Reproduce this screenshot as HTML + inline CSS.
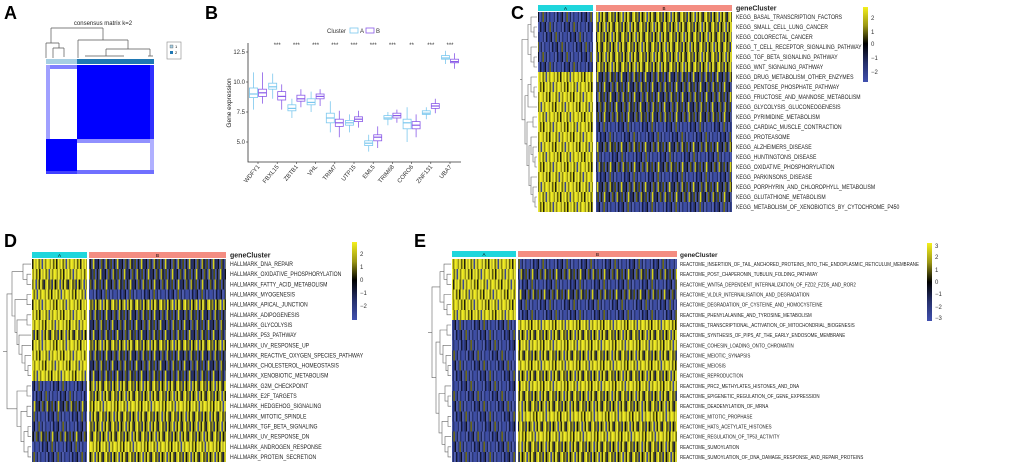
<!DOCTYPE html>
<html><head><meta charset="utf-8"><style>
html,body{margin:0;padding:0;background:#fff;}
svg{display:block;font-family:"Liberation Sans",sans-serif;}
</style></head><body>
<svg id="fig" width="1020" height="467" viewBox="0 0 1020 467" xmlns="http://www.w3.org/2000/svg">
<defs>
<pattern id="hi0" width="24" height="10" patternUnits="userSpaceOnUse"><rect x="0" width="1.7" height="10" fill="#e6e21c"/><rect x="1.6" width="1.7" height="10" fill="#9a9616"/><rect x="3.2" width="1.7" height="10" fill="#f2ee2a"/><rect x="4.8" width="1.7" height="10" fill="#5c5a10"/><rect x="6.4" width="1.7" height="10" fill="#d8d41a"/><rect x="8" width="1.7" height="10" fill="#22220a"/><rect x="9.6" width="1.7" height="10" fill="#eeea26"/><rect x="11.2" width="1.7" height="10" fill="#b4b018"/><rect x="12.8" width="1.7" height="10" fill="#f5f22e"/><rect x="14.4" width="1.7" height="10" fill="#707012"/><rect x="16" width="1.7" height="10" fill="#cfcb1a"/><rect x="17.6" width="1.7" height="10" fill="#3a4892"/><rect x="19.2" width="1.7" height="10" fill="#e9e520"/><rect x="20.8" width="1.7" height="10" fill="#8a8614"/><rect x="22.4" width="1.7" height="10" fill="#f0ec28"/></pattern>
<pattern id="lo0" width="24" height="10" patternUnits="userSpaceOnUse"><rect x="0" width="1.7" height="10" fill="#3c4ca4"/><rect x="1.6" width="1.7" height="10" fill="#26306c"/><rect x="3.2" width="1.7" height="10" fill="#4858b6"/><rect x="4.8" width="1.7" height="10" fill="#141a3a"/><rect x="6.4" width="1.7" height="10" fill="#3848a0"/><rect x="8" width="1.7" height="10" fill="#2c387a"/><rect x="9.6" width="1.7" height="10" fill="#0e1024"/><rect x="11.2" width="1.7" height="10" fill="#4252ae"/><rect x="12.8" width="1.7" height="10" fill="#303e86"/><rect x="14.4" width="1.7" height="10" fill="#6a6818"/><rect x="16" width="1.7" height="10" fill="#3a4aa2"/><rect x="17.6" width="1.7" height="10" fill="#1e2756"/><rect x="19.2" width="1.7" height="10" fill="#4656b2"/><rect x="20.8" width="1.7" height="10" fill="#2a3672"/><rect x="22.4" width="1.7" height="10" fill="#3e4ea6"/></pattern>
<pattern id="mh0" width="24" height="10" patternUnits="userSpaceOnUse"><rect x="0" width="1.7" height="10" fill="#c8c41a"/><rect x="1.6" width="1.7" height="10" fill="#2a2a0c"/><rect x="3.2" width="1.7" height="10" fill="#eeea26"/><rect x="4.8" width="1.7" height="10" fill="#6a6812"/><rect x="6.4" width="1.7" height="10" fill="#1a1e40"/><rect x="8" width="1.7" height="10" fill="#b0ac18"/><rect x="9.6" width="1.7" height="10" fill="#f2ee2a"/><rect x="11.2" width="1.7" height="10" fill="#404010"/><rect x="12.8" width="1.7" height="10" fill="#9a9616"/><rect x="14.4" width="1.7" height="10" fill="#2a3670"/><rect x="16" width="1.7" height="10" fill="#dcd81c"/><rect x="17.6" width="1.7" height="10" fill="#101008"/><rect x="19.2" width="1.7" height="10" fill="#807e14"/><rect x="20.8" width="1.7" height="10" fill="#e6e21e"/><rect x="22.4" width="1.7" height="10" fill="#3c4a98"/></pattern>
<pattern id="ml0" width="24" height="10" patternUnits="userSpaceOnUse"><rect x="0" width="1.7" height="10" fill="#26306c"/><rect x="1.6" width="1.7" height="10" fill="#101010"/><rect x="3.2" width="1.7" height="10" fill="#3c4ca4"/><rect x="4.8" width="1.7" height="10" fill="#6a6812"/><rect x="6.4" width="1.7" height="10" fill="#1c2450"/><rect x="8" width="1.7" height="10" fill="#3a4aa0"/><rect x="9.6" width="1.7" height="10" fill="#b0ac18"/><rect x="11.2" width="1.7" height="10" fill="#0c0e1e"/><rect x="12.8" width="1.7" height="10" fill="#30407e"/><rect x="14.4" width="1.7" height="10" fill="#505010"/><rect x="16" width="1.7" height="10" fill="#4454b0"/><rect x="17.6" width="1.7" height="10" fill="#1a1a10"/><rect x="19.2" width="1.7" height="10" fill="#2c3878"/><rect x="20.8" width="1.7" height="10" fill="#d8d41a"/><rect x="22.4" width="1.7" height="10" fill="#202a60"/></pattern>
<pattern id="hi1" href="#hi0" patternTransform="translate(7,0)"/><pattern id="hi2" href="#hi0" patternTransform="translate(13,0)"/><pattern id="hi3" href="#hi0" patternTransform="translate(19,0)"/>
<pattern id="lo1" href="#lo0" patternTransform="translate(7,0)"/><pattern id="lo2" href="#lo0" patternTransform="translate(13,0)"/><pattern id="lo3" href="#lo0" patternTransform="translate(19,0)"/>
<pattern id="mh1" href="#mh0" patternTransform="translate(7,0)"/><pattern id="mh2" href="#mh0" patternTransform="translate(13,0)"/><pattern id="mh3" href="#mh0" patternTransform="translate(19,0)"/>
<pattern id="ml1" href="#ml0" patternTransform="translate(7,0)"/><pattern id="ml2" href="#ml0" patternTransform="translate(13,0)"/><pattern id="ml3" href="#ml0" patternTransform="translate(19,0)"/>
<linearGradient id="cbC" x1="0" y1="0" x2="0" y2="1"><stop offset="0" stop-color="#f4f01c"/><stop offset="0.25" stop-color="#9a9614"/><stop offset="0.49" stop-color="#000"/><stop offset="0.75" stop-color="#26306c"/><stop offset="1" stop-color="#4050b0"/></linearGradient>
<linearGradient id="cbE" x1="0" y1="0" x2="0" y2="1"><stop offset="0" stop-color="#f4f01c"/><stop offset="0.25" stop-color="#9a9614"/><stop offset="0.5" stop-color="#000"/><stop offset="0.75" stop-color="#26306c"/><stop offset="1" stop-color="#4050b0"/></linearGradient>
</defs>

<text x="4" y="19" font-size="18" font-weight="bold">A</text>
<text x="205" y="19" font-size="18" font-weight="bold">B</text>
<text x="511" y="19" font-size="18" font-weight="bold">C</text>
<text x="4" y="247" font-size="18" font-weight="bold">D</text>
<text x="414" y="247" font-size="18" font-weight="bold">E</text>

<!-- Panel A -->
<g>
<text x="103" y="25" font-size="6" text-anchor="middle" fill="#222">consensus matrix k=2</text>
<path d="M51 28H103M51 28V43M103 28V40M46 43H59M46 43V58M59 43V48M53 48H64M53 48V58M64 48V57M78 40H128M78 40V58M128 40V49M106 49H150M106 49V56M150 49V56M85 56H124M148 56H153" stroke="#555" stroke-width="0.7" fill="none"/>
<rect x="46" y="59" width="31" height="5" fill="#a6cee3"/>
<rect x="77" y="59" width="77" height="5" fill="#1f78b4"/>
<g>
<rect x="46" y="65" width="108" height="109" fill="#fff"/>
<rect x="77" y="65" width="77" height="74" fill="#0000ff"/>
<rect x="46" y="139" width="31" height="35" fill="#0000ff"/>
<rect x="46" y="65" width="31" height="4" fill="#8080ff"/>
<rect x="46" y="65" width="4" height="74" fill="#a0a0ff"/>
<rect x="77" y="139" width="77" height="4" fill="#9090ff"/>
<rect x="150" y="139" width="4" height="35" fill="#b0b0ff"/>
<rect x="77" y="170" width="77" height="4" fill="#7070ff"/>
<rect x="46" y="171" width="31" height="3" fill="#4040ff"/>
<rect x="150" y="65" width="4" height="74" fill="#3030ff"/>
</g>
<g>
<rect x="167" y="42" width="14" height="17" fill="#fff" stroke="#888" stroke-width="0.6"/>
<rect x="170" y="45" width="3" height="3" fill="#a6cee3" stroke="#333" stroke-width="0.3"/>
<rect x="170" y="51" width="3" height="3" fill="#1f78b4"/>
<text x="175" y="48" font-size="4">1</text><text x="175" y="54" font-size="4">2</text>
</g>
</g>

<!-- Panel B -->
<g>
<path d="M248 43V162H461" stroke="#333" stroke-width="0.8" fill="none"/>
<g stroke="#333" stroke-width="0.6"><line x1="246" y1="142" x2="248" y2="142"/><line x1="246" y1="112" x2="248" y2="112"/><line x1="246" y1="82" x2="248" y2="82"/><line x1="246" y1="52" x2="248" y2="52"/></g>
<g font-size="6" text-anchor="end" fill="#333">
<text x="245" y="144">5.0</text><text x="245" y="114">7.5</text><text x="245" y="84">10.0</text><text x="245" y="54">12.5</text></g>
<text transform="translate(231,103) rotate(-90)" font-size="6.5" text-anchor="middle" fill="#222">Gene expression</text>
<g id="boxes" fill="#fff" stroke-width="0.8">
<g id="ba0" stroke="#7cc8ee"><path d="M253.5 72.4V88M253.5 97.6V109.6"/><rect x="249.5" y="88" width="8" height="9.6"/><line x1="249.5" x2="257.5" y1="94" y2="94" stroke-width="1.2"/></g>
<g id="bb0" stroke="#8a5be8"><path d="M262.5 72.4V89.2M262.5 96.4V103.6"/><rect x="258.5" y="89.2" width="8" height="7.2"/><line x1="258.5" x2="266.5" y1="92.8" y2="92.8" stroke-width="1.2"/></g>
<g id="ba1" stroke="#7cc8ee"><path d="M272.7 73.6V83.2M272.7 89.2V98.8"/><rect x="268.7" y="83.2" width="8" height="6"/><line x1="268.7" x2="276.7" y1="86.8" y2="86.8" stroke-width="1.2"/></g>
<g id="bb1" stroke="#8a5be8"><path d="M281.7 84.4V91.6M281.7 100V109.6"/><rect x="277.7" y="91.6" width="8" height="8.4"/><line x1="277.7" x2="285.7" y1="96.4" y2="96.4" stroke-width="1.2"/></g>
<g id="ba2" stroke="#7cc8ee"><path d="M291.9 98.8V104.8M291.9 110.8V118"/><rect x="287.9" y="104.8" width="8" height="6"/><line x1="287.9" x2="295.9" y1="108.4" y2="108.4" stroke-width="1.2"/></g>
<g id="bb2" stroke="#8a5be8"><path d="M300.9 89.2V95.2M300.9 101.2V107.2"/><rect x="296.9" y="95.2" width="8" height="6"/><line x1="296.9" x2="304.9" y1="98.8" y2="98.8" stroke-width="1.2"/></g>
<g id="ba3" stroke="#7cc8ee"><path d="M311.1 91.6V98.8M311.1 104.8V112"/><rect x="307.1" y="98.8" width="8" height="6"/><line x1="307.1" x2="315.1" y1="102.4" y2="102.4" stroke-width="1.2"/></g>
<g id="bb3" stroke="#8a5be8"><path d="M320.1 89.2V94M320.1 98.8V106"/><rect x="316.1" y="94" width="8" height="4.8"/><line x1="316.1" x2="324.1" y1="96.4" y2="96.4" stroke-width="1.2"/></g>
<g id="ba4" stroke="#7cc8ee"><path d="M330.3 101.2V113.2M330.3 122.8V132.4"/><rect x="326.3" y="113.2" width="8" height="9.6"/><line x1="326.3" x2="334.3" y1="118" y2="118" stroke-width="1.2"/></g>
<g id="bb4" stroke="#8a5be8"><path d="M339.3 110.8V119.2M339.3 126.4V137.2"/><rect x="335.3" y="119.2" width="8" height="7.2"/><line x1="335.3" x2="343.3" y1="122.8" y2="122.8" stroke-width="1.2"/></g>
<g id="ba5" stroke="#7cc8ee"><path d="M349.5 114.4V120.4M349.5 125.2V132.4"/><rect x="345.5" y="120.4" width="8" height="4.8"/><line x1="345.5" x2="353.5" y1="122.8" y2="122.8" stroke-width="1.2"/></g>
<g id="bb5" stroke="#8a5be8"><path d="M358.5 110.8V116.8M358.5 121.6V127.6"/><rect x="354.5" y="116.8" width="8" height="4.8"/><line x1="354.5" x2="362.5" y1="119.2" y2="119.2" stroke-width="1.2"/></g>
<g id="ba6" stroke="#7cc8ee"><path d="M368.7 134.8V140.8M368.7 145.6V151.6"/><rect x="364.7" y="140.8" width="8" height="4.8"/><line x1="364.7" x2="372.7" y1="143.2" y2="143.2" stroke-width="1.2"/></g>
<g id="bb6" stroke="#8a5be8"><path d="M377.7 126.4V134.8M377.7 140.8V148"/><rect x="373.7" y="134.8" width="8" height="6"/><line x1="373.7" x2="381.7" y1="137.2" y2="137.2" stroke-width="1.2"/></g>
<g id="ba7" stroke="#7cc8ee"><path d="M387.9 112V115.6M387.9 119.2V125.2"/><rect x="383.9" y="115.6" width="8" height="3.6"/><line x1="383.9" x2="391.9" y1="118" y2="118" stroke-width="1.2"/></g>
<g id="bb7" stroke="#8a5be8"><path d="M396.9 109.6V113.2M396.9 118V122.8"/><rect x="392.9" y="113.2" width="8" height="4.8"/><line x1="392.9" x2="400.9" y1="115.6" y2="115.6" stroke-width="1.2"/></g>
<g id="ba8" stroke="#7cc8ee"><path d="M407.1 107.2V119.2M407.1 128.8V142"/><rect x="403.1" y="119.2" width="8" height="9.6"/><line x1="403.1" x2="411.1" y1="122.8" y2="122.8" stroke-width="1.2"/></g>
<g id="bb8" stroke="#8a5be8"><path d="M416.1 114.4V121.6M416.1 128.8V137.2"/><rect x="412.1" y="121.6" width="8" height="7.2"/><line x1="412.1" x2="420.1" y1="125.2" y2="125.2" stroke-width="1.2"/></g>
<g id="ba9" stroke="#7cc8ee"><path d="M426.3 107.2V110.8M426.3 114.4V119.2"/><rect x="422.3" y="110.8" width="8" height="3.6"/><line x1="422.3" x2="430.3" y1="113.2" y2="113.2" stroke-width="1.2"/></g>
<g id="bb9" stroke="#8a5be8"><path d="M435.3 98.8V103.6M435.3 108.4V113.2"/><rect x="431.3" y="103.6" width="8" height="4.8"/><line x1="431.3" x2="439.3" y1="106" y2="106" stroke-width="1.2"/></g>
<g id="ba10" stroke="#7cc8ee"><path d="M445.5 50.8V55.6M445.5 59.2V64"/><rect x="441.5" y="55.6" width="8" height="3.6"/><line x1="441.5" x2="449.5" y1="58" y2="58" stroke-width="1.2"/></g>
<g id="bb10" stroke="#8a5be8"><path d="M454.5 53.2V59.2M454.5 62.8V68.8"/><rect x="450.5" y="59.2" width="8" height="3.6"/><line x1="450.5" x2="458.5" y1="61.6" y2="61.6" stroke-width="1.2"/></g>
</g>
<g stroke="#333" stroke-width="0.6"><path d="M258 162v2M277.2 162v2M296.4 162v2M315.6 162v2M334.8 162v2M354 162v2M373.2 162v2M392.4 162v2M411.6 162v2M430.8 162v2M450 162v2"/></g>
<g font-size="6" text-anchor="end" fill="#333">
<text transform="translate(260,167) rotate(-50)">WDFY1</text>
<text transform="translate(279.2,167) rotate(-50)">FBXL15</text>
<text transform="translate(298.4,167) rotate(-50)">ZBTB1</text>
<text transform="translate(317.6,167) rotate(-50)">VHL</text>
<text transform="translate(336.8,167) rotate(-50)">TRIM7</text>
<text transform="translate(356,167) rotate(-50)">UTP15</text>
<text transform="translate(375.2,167) rotate(-50)">EML5</text>
<text transform="translate(394.4,167) rotate(-50)">TRIM68</text>
<text transform="translate(413.6,167) rotate(-50)">CORO6</text>
<text transform="translate(432.8,167) rotate(-50)">ZNF131</text>
<text transform="translate(452,167) rotate(-50)">UBA7</text>
</g>
<g font-size="6" text-anchor="middle" fill="#333">
<text x="277.2" y="47">***</text><text x="296.4" y="47">***</text><text x="315.6" y="47">***</text><text x="334.8" y="47">***</text><text x="354" y="47">***</text><text x="373.2" y="47">***</text><text x="392.4" y="47">***</text><text x="411.6" y="47">**</text><text x="430.8" y="47">***</text><text x="450" y="47">***</text>
</g>
<g>
<text x="327" y="33" font-size="6" fill="#333">Cluster</text>
<rect x="350" y="28" width="8" height="5" fill="#fff" stroke="#7cc8ee" stroke-width="0.8"/><text x="360" y="33" font-size="6" fill="#333">A</text>
<rect x="366" y="28" width="8" height="5" fill="#fff" stroke="#8a5be8" stroke-width="0.8"/><text x="376" y="33" font-size="6" fill="#333">B</text>
</g>
</g>

<!-- Panel C -->
<g>
<rect x="538" y="5" width="55" height="6" fill="#1fd6dc"/>
<rect x="596" y="5" width="136" height="6" fill="#f48d82"/>
<text x="565.5" y="10" font-size="4.5" text-anchor="middle">A</text><text x="664" y="10" font-size="4.5" text-anchor="middle">B</text>
<g shape-rendering="crispEdges">
<rect x="538" y="12" width="55" height="10" fill="url(#lo0)"/><rect x="596" y="12" width="136" height="10" fill="url(#mh0)"/>
<rect x="538" y="22" width="55" height="10" fill="url(#lo1)"/><rect x="596" y="22" width="136" height="10" fill="url(#mh1)"/>
<rect x="538" y="32" width="55" height="10" fill="url(#lo2)"/><rect x="596" y="32" width="136" height="10" fill="url(#mh2)"/>
<rect x="538" y="42" width="55" height="10" fill="url(#lo3)"/><rect x="596" y="42" width="136" height="10" fill="url(#mh3)"/>
<rect x="538" y="52" width="55" height="10" fill="url(#lo0)"/><rect x="596" y="52" width="136" height="10" fill="url(#mh1)"/>
<rect x="538" y="62" width="55" height="10" fill="url(#lo1)"/><rect x="596" y="62" width="136" height="10" fill="url(#mh2)"/>
<rect x="538" y="72" width="55" height="10" fill="url(#hi0)"/><rect x="596" y="72" width="136" height="10" fill="url(#ml0)"/>
<rect x="538" y="82" width="55" height="10" fill="url(#hi1)"/><rect x="596" y="82" width="136" height="10" fill="url(#ml1)"/>
<rect x="538" y="92" width="55" height="10" fill="url(#hi2)"/><rect x="596" y="92" width="136" height="10" fill="url(#ml2)"/>
<rect x="538" y="102" width="55" height="10" fill="url(#hi3)"/><rect x="596" y="102" width="136" height="10" fill="url(#ml3)"/>
<rect x="538" y="112" width="55" height="10" fill="url(#hi0)"/><rect x="596" y="112" width="136" height="10" fill="url(#ml1)"/>
<rect x="538" y="122" width="55" height="10" fill="url(#hi1)"/><rect x="596" y="122" width="136" height="10" fill="url(#lo2)"/>
<rect x="538" y="132" width="55" height="10" fill="url(#hi2)"/><rect x="596" y="132" width="136" height="10" fill="url(#lo3)"/>
<rect x="538" y="142" width="55" height="10" fill="url(#hi3)"/><rect x="596" y="142" width="136" height="10" fill="url(#ml0)"/>
<rect x="538" y="152" width="55" height="10" fill="url(#hi0)"/><rect x="596" y="152" width="136" height="10" fill="url(#lo1)"/>
<rect x="538" y="162" width="55" height="10" fill="url(#hi1)"/><rect x="596" y="162" width="136" height="10" fill="url(#ml2)"/>
<rect x="538" y="172" width="55" height="10" fill="url(#hi2)"/><rect x="596" y="172" width="136" height="10" fill="url(#lo3)"/>
<rect x="538" y="182" width="55" height="10" fill="url(#hi3)"/><rect x="596" y="182" width="136" height="10" fill="url(#ml0)"/>
<rect x="538" y="192" width="55" height="10" fill="url(#hi0)"/><rect x="596" y="192" width="136" height="10" fill="url(#ml1)"/>
<rect x="538" y="202" width="55" height="10" fill="url(#hi1)"/><rect x="596" y="202" width="136" height="10" fill="url(#lo2)"/>
</g>
<path d="M537 27H534V37H537M537 57H534V67H537M537 17H531V32H534M537 47H531V62H534M531 24.5H528V54.5H531M537 87H534V97H537M537 77H531V92H534M537 107H528V84.5H531M537 117H533V127H537M537 157H535V167H537M537 147H533V162H535M537 137H531V154.5H533M537 197H535V207H537M537 187H533V202H535M537 177H531V194.5H533M531 145.75H529V185.75H531M533 122H527V165.75H529M528 95.75H525V143.9H527M528 39.5H522V119.8H525M520 79.6H522" stroke="#666" stroke-width="0.6" fill="none"/>
<text x="736" y="10.5" font-size="7" font-weight="bold" fill="#222">geneCluster</text>
<g transform="translate(736,0) scale(0.83,1)" font-size="6.2" fill="#222">
<text y="19">KEGG_BASAL_TRANSCRIPTION_FACTORS</text><text y="29">KEGG_SMALL_CELL_LUNG_CANCER</text><text y="39">KEGG_COLORECTAL_CANCER</text><text y="49">KEGG_T_CELL_RECEPTOR_SIGNALING_PATHWAY</text><text y="59">KEGG_TGF_BETA_SIGNALING_PATHWAY</text><text y="69">KEGG_WNT_SIGNALING_PATHWAY</text><text y="79">KEGG_DRUG_METABOLISM_OTHER_ENZYMES</text><text y="89">KEGG_PENTOSE_PHOSPHATE_PATHWAY</text><text y="99">KEGG_FRUCTOSE_AND_MANNOSE_METABOLISM</text><text y="109">KEGG_GLYCOLYSIS_GLUCONEOGENESIS</text><text y="119">KEGG_PYRIMIDINE_METABOLISM</text><text y="129">KEGG_CARDIAC_MUSCLE_CONTRACTION</text><text y="139">KEGG_PROTEASOME</text><text y="149">KEGG_ALZHEIMERS_DISEASE</text><text y="159">KEGG_HUNTINGTONS_DISEASE</text><text y="169">KEGG_OXIDATIVE_PHOSPHORYLATION</text><text y="179">KEGG_PARKINSONS_DISEASE</text><text y="189">KEGG_PORPHYRIN_AND_CHLOROPHYLL_METABOLISM</text><text y="199">KEGG_GLUTATHIONE_METABOLISM</text><text y="209">KEGG_METABOLISM_OF_XENOBIOTICS_BY_CYTOCHROME_P450</text>
</g>
<g>
<rect x="863" y="7" width="5" height="75" fill="url(#cbC)"/>
<g font-size="6" fill="#333"><text x="871" y="20">2</text><text x="871" y="34">1</text><text x="871" y="46">0</text><text x="871" y="60">−1</text><text x="871" y="74">−2</text></g>
</g>
</g>

<!-- Panel D -->
<g>
<rect x="32" y="252" width="55" height="6" fill="#1fd6dc"/>
<rect x="89" y="252" width="137" height="6" fill="#f48d82"/>
<text x="59.5" y="257" font-size="4.5" text-anchor="middle">A</text><text x="157.5" y="257" font-size="4.5" text-anchor="middle">B</text>
<g shape-rendering="crispEdges">
<rect x="32" y="259" width="55" height="10.2" fill="url(#hi0)"/><rect x="89" y="259" width="137" height="10.2" fill="url(#ml0)"/>
<rect x="32" y="269.15" width="55" height="10.2" fill="url(#hi1)"/><rect x="89" y="269.15" width="137" height="10.2" fill="url(#ml1)"/>
<rect x="32" y="279.3" width="55" height="10.2" fill="url(#mh2)"/><rect x="89" y="279.3" width="137" height="10.2" fill="url(#ml2)"/>
<rect x="32" y="289.45" width="55" height="10.2" fill="url(#hi3)"/><rect x="89" y="289.45" width="137" height="10.2" fill="url(#lo3)"/>
<rect x="32" y="299.6" width="55" height="10.2" fill="url(#hi0)"/><rect x="89" y="299.6" width="137" height="10.2" fill="url(#mh1)"/>
<rect x="32" y="309.75" width="55" height="10.2" fill="url(#hi1)"/><rect x="89" y="309.75" width="137" height="10.2" fill="url(#ml2)"/>
<rect x="32" y="319.9" width="55" height="10.2" fill="url(#hi2)"/><rect x="89" y="319.9" width="137" height="10.2" fill="url(#ml3)"/>
<rect x="32" y="330.05" width="55" height="10.2" fill="url(#mh3)"/><rect x="89" y="330.05" width="137" height="10.2" fill="url(#ml0)"/>
<rect x="32" y="340.2" width="55" height="10.2" fill="url(#hi0)"/><rect x="89" y="340.2" width="137" height="10.2" fill="url(#mh1)"/>
<rect x="32" y="350.35" width="55" height="10.2" fill="url(#hi1)"/><rect x="89" y="350.35" width="137" height="10.2" fill="url(#ml2)"/>
<rect x="32" y="360.5" width="55" height="10.2" fill="url(#hi2)"/><rect x="89" y="360.5" width="137" height="10.2" fill="url(#ml3)"/>
<rect x="32" y="370.65" width="55" height="10.2" fill="url(#hi3)"/><rect x="89" y="370.65" width="137" height="10.2" fill="url(#ml0)"/>
<rect x="32" y="380.8" width="55" height="10.2" fill="url(#lo0)"/><rect x="89" y="380.8" width="137" height="10.2" fill="url(#mh0)"/>
<rect x="32" y="390.95" width="55" height="10.2" fill="url(#lo1)"/><rect x="89" y="390.95" width="137" height="10.2" fill="url(#mh1)"/>
<rect x="32" y="401.1" width="55" height="10.2" fill="url(#ml2)"/><rect x="89" y="401.1" width="137" height="10.2" fill="url(#hi2)"/>
<rect x="32" y="411.25" width="55" height="10.2" fill="url(#lo3)"/><rect x="89" y="411.25" width="137" height="10.2" fill="url(#mh3)"/>
<rect x="32" y="421.4" width="55" height="10.2" fill="url(#lo0)"/><rect x="89" y="421.4" width="137" height="10.2" fill="url(#mh1)"/>
<rect x="32" y="431.55" width="55" height="10.2" fill="url(#ml1)"/><rect x="89" y="431.55" width="137" height="10.2" fill="url(#mh2)"/>
<rect x="32" y="441.7" width="55" height="10.2" fill="url(#lo2)"/><rect x="89" y="441.7" width="137" height="10.2" fill="url(#hi3)"/>
<rect x="32" y="451.85" width="55" height="10.15" fill="url(#lo3)"/><rect x="89" y="451.85" width="137" height="10.15" fill="url(#mh0)"/>
</g>
<path d="M31 274.2H27V284.4H31M31 264.1H23V279.3H27M31 294.5H27V304.7H31M31 314.8H27V325H31M31 365.6H28V375.7H31M31 355.4H25V370.7H28M31 345.3H22V363H25M31 335.1H19V354.2H22M27 319.9H17V344.7H19M27 299.6H15V332.3H17M23 271.7H12V316H15M31 385.9H27V396H31M31 406.2H27V416.3H31M31 426.5H28V436.6H31M31 446.8H28V456.9H31M28 431.6H24V451.9H28M27 411.3H21V441.7H24M27 391H17V426.5H21M12 293.9H7V408.8H17M3 351.3H7" stroke="#666" stroke-width="0.6" fill="none"/>
<text x="230" y="257.5" font-size="7" font-weight="bold" fill="#222">geneCluster</text>
<g transform="translate(230,0) scale(0.83,1)" font-size="6.2" fill="#222">
<text y="266.1">HALLMARK_DNA_REPAIR</text><text y="276.2">HALLMARK_OXIDATIVE_PHOSPHORYLATION</text><text y="286.4">HALLMARK_FATTY_ACID_METABOLISM</text><text y="296.5">HALLMARK_MYOGENESIS</text><text y="306.7">HALLMARK_APICAL_JUNCTION</text><text y="316.8">HALLMARK_ADIPOGENESIS</text><text y="327">HALLMARK_GLYCOLYSIS</text><text y="337.1">HALLMARK_P53_PATHWAY</text><text y="347.3">HALLMARK_UV_RESPONSE_UP</text><text y="357.4">HALLMARK_REACTIVE_OXYGEN_SPECIES_PATHWAY</text><text y="367.6">HALLMARK_CHOLESTEROL_HOMEOSTASIS</text><text y="377.7">HALLMARK_XENOBIOTIC_METABOLISM</text><text y="387.9">HALLMARK_G2M_CHECKPOINT</text><text y="398">HALLMARK_E2F_TARGETS</text><text y="408.2">HALLMARK_HEDGEHOG_SIGNALING</text><text y="418.3">HALLMARK_MITOTIC_SPINDLE</text><text y="428.5">HALLMARK_TGF_BETA_SIGNALING</text><text y="438.6">HALLMARK_UV_RESPONSE_DN</text><text y="448.8">HALLMARK_ANDROGEN_RESPONSE</text><text y="458.9">HALLMARK_PROTEIN_SECRETION</text>
</g>
<g>
<rect x="352" y="242" width="5" height="78" fill="url(#cbC)"/>
<g font-size="6" fill="#333"><text x="360" y="256">2</text><text x="360" y="269">1</text><text x="360" y="282">0</text><text x="360" y="295">−1</text><text x="360" y="308">−2</text></g>
</g>
</g>

<!-- Panel E -->
<g>
<rect x="452" y="251" width="64" height="6" fill="#1fd6dc"/>
<rect x="518" y="251" width="159" height="6" fill="#f48d82"/>
<text x="484" y="256" font-size="4.5" text-anchor="middle">A</text><text x="597.5" y="256" font-size="4.5" text-anchor="middle">B</text>
<g shape-rendering="crispEdges">
<rect x="452" y="259" width="64" height="10.2" fill="url(#hi0)"/><rect x="518" y="259" width="159" height="10.2" fill="url(#lo0)"/>
<rect x="452" y="269.15" width="64" height="10.2" fill="url(#hi1)"/><rect x="518" y="269.15" width="159" height="10.2" fill="url(#ml1)"/>
<rect x="452" y="279.3" width="64" height="10.2" fill="url(#hi2)"/><rect x="518" y="279.3" width="159" height="10.2" fill="url(#lo2)"/>
<rect x="452" y="289.45" width="64" height="10.2" fill="url(#hi3)"/><rect x="518" y="289.45" width="159" height="10.2" fill="url(#ml3)"/>
<rect x="452" y="299.6" width="64" height="10.2" fill="url(#hi0)"/><rect x="518" y="299.6" width="159" height="10.2" fill="url(#lo1)"/>
<rect x="452" y="309.75" width="64" height="10.2" fill="url(#hi1)"/><rect x="518" y="309.75" width="159" height="10.2" fill="url(#lo2)"/>
<rect x="452" y="319.9" width="64" height="10.2" fill="url(#lo2)"/><rect x="518" y="319.9" width="159" height="10.2" fill="url(#hi3)"/>
<rect x="452" y="330.05" width="64" height="10.2" fill="url(#lo3)"/><rect x="518" y="330.05" width="159" height="10.2" fill="url(#mh0)"/>
<rect x="452" y="340.2" width="64" height="10.2" fill="url(#lo0)"/><rect x="518" y="340.2" width="159" height="10.2" fill="url(#hi1)"/>
<rect x="452" y="350.35" width="64" height="10.2" fill="url(#lo1)"/><rect x="518" y="350.35" width="159" height="10.2" fill="url(#mh2)"/>
<rect x="452" y="360.5" width="64" height="10.2" fill="url(#lo2)"/><rect x="518" y="360.5" width="159" height="10.2" fill="url(#hi3)"/>
<rect x="452" y="370.65" width="64" height="10.2" fill="url(#lo3)"/><rect x="518" y="370.65" width="159" height="10.2" fill="url(#mh0)"/>
<rect x="452" y="380.8" width="64" height="10.2" fill="url(#lo0)"/><rect x="518" y="380.8" width="159" height="10.2" fill="url(#hi1)"/>
<rect x="452" y="390.95" width="64" height="10.2" fill="url(#lo1)"/><rect x="518" y="390.95" width="159" height="10.2" fill="url(#mh2)"/>
<rect x="452" y="401.1" width="64" height="10.2" fill="url(#lo2)"/><rect x="518" y="401.1" width="159" height="10.2" fill="url(#mh3)"/>
<rect x="452" y="411.25" width="64" height="10.2" fill="url(#lo3)"/><rect x="518" y="411.25" width="159" height="10.2" fill="url(#hi0)"/>
<rect x="452" y="421.4" width="64" height="10.2" fill="url(#lo0)"/><rect x="518" y="421.4" width="159" height="10.2" fill="url(#mh1)"/>
<rect x="452" y="431.55" width="64" height="10.2" fill="url(#lo1)"/><rect x="518" y="431.55" width="159" height="10.2" fill="url(#hi2)"/>
<rect x="452" y="441.7" width="64" height="10.2" fill="url(#lo2)"/><rect x="518" y="441.7" width="159" height="10.2" fill="url(#mh3)"/>
<rect x="452" y="451.85" width="64" height="10.15" fill="url(#lo3)"/><rect x="518" y="451.85" width="159" height="10.15" fill="url(#mh0)"/>
</g>
<path d="M451 274.2H447V284.4H451M451 264.1H444V279.3H447M451 304.7H447V314.8H451M451 294.5H444V309.7H447M444 271.7H440V302.1H444M451 325H447V335.1H451M451 365.6H448V375.7H451M451 355.4H446V370.7H448M451 345.3H443V363H446M447 330H440V354.2H443M451 396H448V406.2H451M451 385.9H445V401.1H448M451 416.3H448V426.5H451M451 446.8H448V456.9H451M451 436.6H445V451.9H448M448 421.4H442V444.3H445M445 393.5H439V432.9H442M440 342.1H436V413.2H439M440 286.9H432V377.7H436M428 332.3H432" stroke="#666" stroke-width="0.6" fill="none"/>
<text x="680" y="257" font-size="6.5" font-weight="bold" fill="#222">geneCluster</text>
<g transform="translate(680,0) scale(0.79,1)" font-size="5.6" fill="#222">
<text y="266.1">REACTOME_INSERTION_OF_TAIL_ANCHORED_PROTEINS_INTO_THE_ENDOPLASMIC_RETICULUM_MEMBRANE</text><text y="276.2">REACTOME_POST_CHAPERONIN_TUBULIN_FOLDING_PATHWAY</text><text y="286.4">REACTOME_WNT5A_DEPENDENT_INTERNALIZATION_OF_FZD2_FZD5_AND_ROR2</text><text y="296.5">REACTOME_VLDLR_INTERNALISATION_AND_DEGRADATION</text><text y="306.7">REACTOME_DEGRADATION_OF_CYSTEINE_AND_HOMOCYSTEINE</text><text y="316.8">REACTOME_PHENYLALANINE_AND_TYROSINE_METABOLISM</text><text y="327">REACTOME_TRANSCRIPTIONAL_ACTIVATION_OF_MITOCHONDRIAL_BIOGENESIS</text><text y="337.1">REACTOME_SYNTHESIS_OF_PIPS_AT_THE_EARLY_ENDOSOME_MEMBRANE</text><text y="347.3">REACTOME_COHESIN_LOADING_ONTO_CHROMATIN</text><text y="357.4">REACTOME_MEIOTIC_SYNAPSIS</text><text y="367.6">REACTOME_MEIOSIS</text><text y="377.7">REACTOME_REPRODUCTION</text><text y="387.9">REACTOME_PRC2_METHYLATES_HISTONES_AND_DNA</text><text y="398">REACTOME_EPIGENETIC_REGULATION_OF_GENE_EXPRESSION</text><text y="408.2">REACTOME_DEADENYLATION_OF_MRNA</text><text y="418.3">REACTOME_MITOTIC_PROPHASE</text><text y="428.5">REACTOME_HATS_ACETYLATE_HISTONES</text><text y="438.6">REACTOME_REGULATION_OF_TP53_ACTIVITY</text><text y="448.8">REACTOME_SUMOYLATION</text><text y="458.9">REACTOME_SUMOYLATION_OF_DNA_DAMAGE_RESPONSE_AND_REPAIR_PROTEINS</text>
</g>
<g>
<rect x="927" y="243" width="5" height="78" fill="url(#cbE)"/>
<g font-size="6" fill="#333"><text x="935" y="248">3</text><text x="935" y="259">2</text><text x="935" y="272">1</text><text x="935" y="284">0</text><text x="935" y="296">−1</text><text x="935" y="309">−2</text><text x="935" y="320">−3</text></g>
</g>
</g>
</svg>
<script>
var genes = ["WDFY1","FBXL15","ZBTB1","VHL","TRIM7","UTP15","EML5","TRIM68","CORO6","ZNF131","UBA7"];
var medA = [9.0,9.6,7.8,8.3,7.0,6.6,4.9,7.0,6.6,7.4,12.0];
var q1A  = [8.7,9.4,7.6,8.1,6.6,6.4,4.7,6.9,6.1,7.3,11.9];
var q3A  = [9.5,9.9,8.1,8.6,7.4,6.8,5.1,7.2,6.9,7.6,12.2];
var loA  = [7.7,8.6,7.0,7.5,5.8,5.8,4.2,6.4,5.0,6.9,11.5];
var hiA  = [10.8,10.7,8.6,9.2,8.4,7.3,5.6,7.5,7.9,7.9,12.6];
var medB = [9.1,8.8,8.6,8.8,6.6,6.9,5.4,7.2,6.4,8.0,11.7];
var q1B  = [8.8,8.5,8.4,8.6,6.3,6.7,5.1,7.0,6.1,7.8,11.6];
var q3B  = [9.4,9.2,8.9,9.0,6.9,7.1,5.6,7.4,6.7,8.2,11.9];
var loB  = [8.2,7.7,7.9,8.0,5.4,6.2,4.5,6.6,5.4,7.4,11.1];
var hiB  = [10.8,9.8,9.4,9.4,7.6,7.6,6.3,7.7,7.3,8.6,12.4];
function yScale(v){return 142-(v-5)*12;}
function xScale(i){return 258+i*19.2;}
function updateBox(id,cx,med,q1,q3,lo,hi){
  var g=document.getElementById(id);
  if(!g){return;}
  var p=g.getElementsByTagName('path')[0], r=g.getElementsByTagName('rect')[0], l=g.getElementsByTagName('line')[0];
  p.setAttribute('d','M'+cx+' '+yScale(hi)+'V'+yScale(q3)+'M'+cx+' '+yScale(q1)+'V'+yScale(lo));
  r.setAttribute('x',cx-4);r.setAttribute('y',yScale(q3));r.setAttribute('height',Math.max(0.5,yScale(q1)-yScale(q3)));
  l.setAttribute('x1',cx-4);l.setAttribute('x2',cx+4);l.setAttribute('y1',yScale(med));l.setAttribute('y2',yScale(med));
}
try{
  for(var i=0;i<genes.length;i++){
    updateBox('ba'+i,xScale(i)-4.5,medA[i],q1A[i],q3A[i],loA[i],hiA[i]);
    updateBox('bb'+i,xScale(i)+4.5,medB[i],q1B[i],q3B[i],loB[i],hiB[i]);
  }
}catch(e){}
</script>
</body></html>
